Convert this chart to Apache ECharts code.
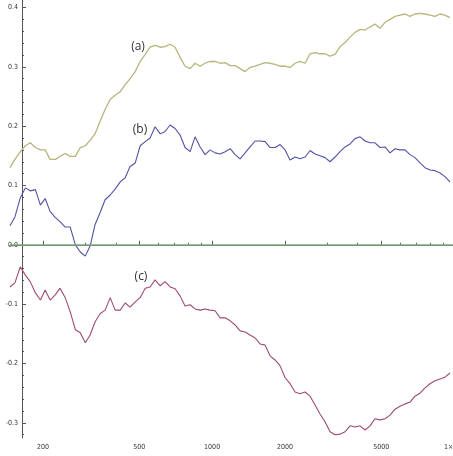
<!DOCTYPE html>
<html><head><meta charset="utf-8">
<script src="https://cdn.jsdelivr.net/npm/echarts@6/dist/echarts.min.js"></script>
<style>html,body{margin:0;padding:0;background:#fff;overflow:hidden}#c{width:453px;height:456px}</style>
</head><body><div id="c"></div>
<script>
// sample positions (n, log-scaled x axis)
const nValues = [146,153,161,169,177,186,195,204,214,225,235,247,259,272,285,299,313,328,344,361,379,397,417,437,458,481,504,529,554,581,610,639,670,703,737,773,811,850,892,935,981,1029,1079,1132,1187,1245,1305,1369,1435,1506,1579,1656,1736,1821,1910,2003,2100,2203,2310,2423,2541,2664,2794,2930,3073,3223,3380,3545,3717,3898,4088,4287,4496,4715,4945,5186,5439,5704,5982,6273,6579,6899,7235,7588,7957,8345,8751,9178,9625];
const seriesA = [0.130,0.144,0.157,0.167,0.172,0.164,0.160,0.160,0.144,0.144,0.149,0.154,0.149,0.149,0.164,0.167,0.176,0.187,0.208,0.228,0.245,0.252,0.258,0.270,0.280,0.292,0.309,0.321,0.333,0.336,0.333,0.334,0.338,0.333,0.316,0.301,0.297,0.306,0.301,0.306,0.309,0.309,0.306,0.307,0.302,0.302,0.297,0.292,0.299,0.301,0.304,0.307,0.306,0.304,0.301,0.301,0.299,0.306,0.309,0.306,0.322,0.324,0.322,0.322,0.318,0.321,0.334,0.341,0.350,0.358,0.363,0.362,0.367,0.372,0.365,0.375,0.380,0.385,0.387,0.389,0.385,0.389,0.390,0.389,0.387,0.385,0.389,0.387,0.383];
const seriesB = [0.032,0.047,0.079,0.096,0.091,0.093,0.067,0.078,0.056,0.046,0.039,0.030,0.030,0.000,-0.012,-0.019,-0.002,0.034,0.054,0.076,0.084,0.094,0.106,0.113,0.132,0.138,0.167,0.174,0.180,0.199,0.187,0.191,0.202,0.196,0.185,0.164,0.157,0.182,0.165,0.152,0.160,0.155,0.153,0.157,0.162,0.152,0.145,0.155,0.165,0.175,0.175,0.174,0.164,0.164,0.169,0.160,0.143,0.148,0.145,0.148,0.159,0.153,0.150,0.147,0.140,0.148,0.157,0.165,0.170,0.179,0.182,0.175,0.172,0.172,0.164,0.165,0.155,0.162,0.160,0.160,0.152,0.147,0.138,0.130,0.126,0.125,0.121,0.115,0.106];
const seriesC = [-0.071,-0.064,-0.037,-0.051,-0.062,-0.081,-0.093,-0.076,-0.093,-0.084,-0.073,-0.089,-0.113,-0.143,-0.148,-0.165,-0.152,-0.130,-0.116,-0.110,-0.089,-0.110,-0.110,-0.098,-0.105,-0.096,-0.089,-0.073,-0.071,-0.059,-0.069,-0.062,-0.071,-0.074,-0.086,-0.103,-0.101,-0.108,-0.110,-0.108,-0.110,-0.111,-0.123,-0.123,-0.128,-0.135,-0.145,-0.147,-0.152,-0.157,-0.167,-0.169,-0.187,-0.194,-0.204,-0.224,-0.234,-0.248,-0.251,-0.248,-0.255,-0.270,-0.285,-0.298,-0.315,-0.320,-0.319,-0.315,-0.305,-0.307,-0.305,-0.312,-0.305,-0.293,-0.295,-0.293,-0.287,-0.277,-0.272,-0.268,-0.265,-0.255,-0.250,-0.241,-0.234,-0.229,-0.226,-0.223,-0.216];
const xTickLabels = [200,500,1000,2000,5000,10000];
const xMinorTicks = [300,400,600,700,800,900,3000,4000,6000,7000,8000,9000];
const yTickLabels = [-0.3,-0.2,-0.1,0.0,0.1,0.2,0.3,0.4];
const yMinorTicks = [-0.32,-0.28,-0.26,-0.24,-0.22,-0.18,-0.16,-0.14,-0.12,-0.08,-0.06,-0.04,-0.02,0.02,0.04,0.06,0.08,0.12,0.14,0.16,0.18,0.22,0.24,0.26,0.28,0.32,0.34,0.36,0.38];
const curveNames = ['(a)','(b)','(c)'];
const xRange = [146, 10000];
const yRange = [-0.3255, 0.4126];

const lg = v => Math.log10(v);
const pts = arr => arr.map((v, i) => [lg(nValues[i]), v]);
const tickFont = "'Liberation Sans Narrow','DejaVu Sans Condensed',sans-serif";
const axisColor = '#555';

const chart = echarts.init(document.getElementById('c'), null, {renderer: 'canvas'});
const xBase = {
  type: 'value', min: lg(xRange[0]), max: lg(xRange[1]), position: 'bottom', offset: 0,
  splitLine: {show: false}
};
const yBase = {
  type: 'value', min: yRange[0], max: yRange[1], position: 'left', offset: -12,
  splitLine: {show: false}
};
chart.setOption({
  animation: false,
  backgroundColor: '#fff',
  grid: {left: 10, right: -1, top: 0, bottom: 18, containLabel: false, outerBoundsMode: 'none'},
  xAxis: [
    Object.assign({}, xBase, {
      axisLine: {show: true, lineStyle: {color: axisColor, width: 1}},
      axisTick: {show: true, inside: true, length: 4, lineStyle: {color: axisColor},
        customValues: xTickLabels.map(lg)},
      axisLabel: {show: true, margin: 6, fontSize: 7, color: '#333', fontFamily: tickFont,
        customValues: xTickLabels.map(lg), hideOverlap: false,
        formatter: v => { const n = Math.round(Math.pow(10, v)); return n === 10000 ? '1×10⁴' : String(n); }}
    }),
    Object.assign({}, xBase, {
      axisLine: {show: false},
      axisTick: {show: true, inside: true, length: 2, lineStyle: {color: axisColor},
        customValues: xMinorTicks.map(lg)},
      axisLabel: {show: false}
    })
  ],
  yAxis: [
    Object.assign({}, yBase, {
      axisLine: {show: true, lineStyle: {color: axisColor, width: 1}},
      axisTick: {show: true, inside: true, length: 4, lineStyle: {color: axisColor},
        customValues: yTickLabels},
      axisLabel: {show: true, margin: 4, fontSize: 7, color: '#333', fontFamily: tickFont,
        customValues: yTickLabels, formatter: v => v.toFixed(1)}
    }),
    Object.assign({}, yBase, {
      axisLine: {show: false},
      axisTick: {show: true, inside: true, length: 2, lineStyle: {color: axisColor},
        customValues: yMinorTicks},
      axisLabel: {show: false}
    })
  ],
  series: [
    {name: curveNames[0], type: 'line', data: pts(seriesA), showSymbol: false, symbol: 'none',
      lineStyle: {color: '#b7b47c', width: 1.3}, z: 3},
    {name: curveNames[1], type: 'line', data: pts(seriesB), showSymbol: false, symbol: 'none',
      lineStyle: {color: '#5252a4', width: 1.1}, z: 3,
      markLine: {silent: true, symbol: 'none', label: {show: false},
        lineStyle: {color: '#7fab7f', width: 1.6, type: 'solid'}, data: [{yAxis: 0}]}},
    {name: curveNames[2], type: 'line', data: pts(seriesC), showSymbol: false, symbol: 'none',
      lineStyle: {color: '#9e4a74', width: 1.1}, z: 3}
  ],
  graphic: [
    {type: 'text', x: 138, y: 47, style: {text: curveNames[0], fill: '#333', font: "12px 'Open Sans', sans-serif", align: 'center', verticalAlign: 'middle'}},
    {type: 'text', x: 140, y: 130, style: {text: curveNames[1], fill: '#333', font: "12px 'Open Sans', sans-serif", align: 'center', verticalAlign: 'middle'}},
    {type: 'text', x: 141, y: 277, style: {text: curveNames[2], fill: '#333', font: "12px 'Open Sans', sans-serif", align: 'center', verticalAlign: 'middle'}}
  ]
});
</script>
</body></html>
